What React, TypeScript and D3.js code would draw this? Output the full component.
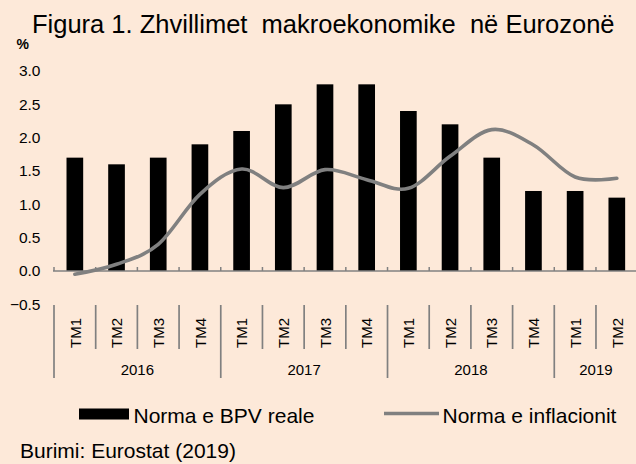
import React from "react";
import * as d3 from "d3";

const quarters = ["TM1","TM2","TM3","TM4","TM1","TM2","TM3","TM4","TM1","TM2","TM3","TM4","TM1","TM2"];
const years = ["2016","2017","2018","2019"];
const yearStarts = [0, 4, 8, 12];
const yearEnds = [4, 8, 12, 14];
const gdpGrowth = [1.7,1.6,1.7,1.9,2.1,2.5,2.8,2.8,2.4,2.2,1.7,1.2,1.2,1.1];
const inflation = [-0.05,0.1,0.4,1.15,1.53,1.25,1.52,1.37,1.24,1.72,2.12,1.89,1.41,1.39];
const yTicks = [-0.5,0.0,0.5,1.0,1.5,2.0,2.5,3.0];

const W = 636, H = 464;
const BG = "#FDE9D9";
const GRAY = "#808080";
const FONT = "'Liberation Sans', Arial, sans-serif";

export default function App() {
  const x0 = 54, bandW = 41.69;
  const idx = quarters.map((_, i) => i);
  const x = d3.scaleBand<number>().domain(idx).range([x0, x0 + bandW * quarters.length]).padding(0);
  const y = d3.scaleLinear().domain([-0.5, 3.0]).range([304.3, 71]);
  const barW = x.bandwidth() * 0.4;
  const cx = (i: number) => (x(i) as number) + x.bandwidth() / 2;
  const edge = (k: number) => x0 + k * x.bandwidth();

  const line = d3.line<number>()
    .x((_, i) => cx(i))
    .y((d) => y(d))
    .curve(d3.curveCardinal.tension(0));

  const axisY = y(0);
  const sepTop = 305, sepShort = 349, sepLong = 378;

  return (
    <svg width={W} height={H} style={{ position: "absolute", left: 0, top: 0, display: "block" }} fontFamily={FONT}>
      <rect x={0} y={0} width={W} height={H} fill={BG} />
      <text x={32} y={32.5} fontSize={25.5} fill="#000">Figura 1. Zhvillimet{"\u00a0"} makroekonomike{"\u00a0"} në Eurozonë</text>
      <text x={16.5} y={49} fontSize={14} fontWeight="bold" fill="#000">%</text>

      {yTicks.map((t) => (
        <text key={t} x={40.5} y={y(t)} dy="0.35em" textAnchor="end" fontSize={15.5} fill="#000">
          {d3.format(".1f")(t)}
        </text>
      ))}

      {gdpGrowth.map((v, i) => (
        <rect key={i} x={cx(i) - barW / 2} y={y(v)} width={barW} height={axisY - y(v)} fill="#000" />
      ))}

      <line x1={53} x2={W} y1={axisY} y2={axisY} stroke={GRAY} strokeWidth={1.6} />
      {d3.range(0, quarters.length + 1).map((k) => (
        <line key={k} x1={edge(k)} x2={edge(k)} y1={axisY} y2={axisY - 4} stroke={GRAY} strokeWidth={1.5} />
      ))}

      <path d={line(inflation) || ""} fill="none" stroke={GRAY} strokeWidth={3.6} strokeLinecap="round" />

      {d3.range(0, quarters.length).map((k) => (
        <line key={"s" + k} x1={edge(k)} x2={edge(k)} y1={sepTop}
          y2={yearStarts.includes(k) ? sepLong : sepShort} stroke={GRAY} strokeWidth={1.7} />
      ))}
      {quarters.map((q, i) => (
        <text key={"q" + i} transform={`translate(${cx(i) + 0.5},333) rotate(-90)`} textAnchor="middle"
          dy="0.35em" fontSize={15} fill="#000">{q}</text>
      ))}
      {years.map((yr, j) => (
        <text key={yr} x={(edge(yearStarts[j]) + Math.min(edge(yearEnds[j]), edge(yearEnds[j]))) / 2} y={375}
          textAnchor="middle" fontSize={15} fill="#000">{yr}</text>
      ))}

      <rect x={79} y={408.5} width={50} height={11} fill="#000" />
      <text x={133.5} y={422.7} fontSize={21} fill="#000">Norma e BPV reale</text>
      <line x1={384} x2={439} y1={413.5} y2={413.5} stroke={GRAY} strokeWidth={3.6} />
      <text x={442.5} y={422.7} fontSize={21} fill="#000">Norma e inflacionit</text>

      <text x={20} y={457.5} fontSize={21} fill="#000">Burimi: Eurostat (2019)</text>
    </svg>
  );
}
